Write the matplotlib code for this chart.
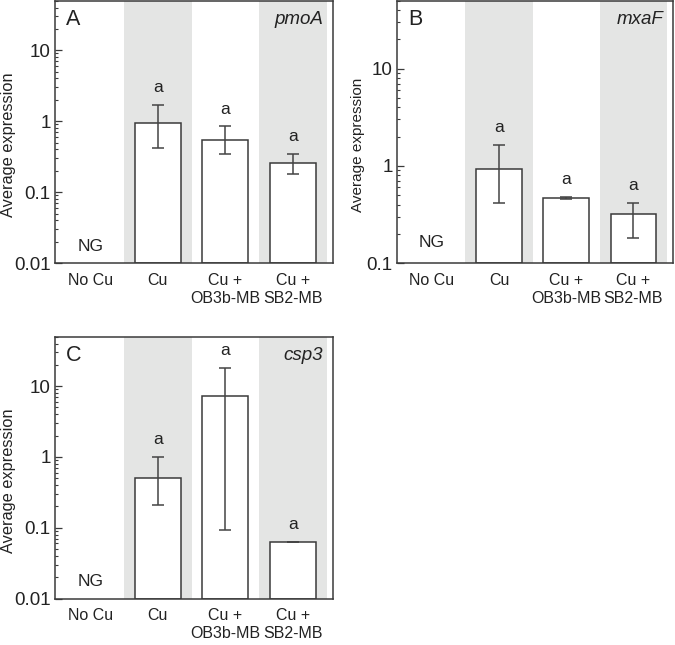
import numpy as np
import matplotlib
matplotlib.use("Agg")
import matplotlib.pyplot as plt
from matplotlib.ticker import LogLocator, NullFormatter, FixedLocator, FixedFormatter

plt.rcParams['font.family'] = ['Liberation Sans', 'DejaVu Sans']

categories = ["No Cu", "Cu", "Cu +\nOB3b-MB", "Cu +\nSB2-MB"]

# pmoA (No Cu = not detected)
pmoA_mean = [np.nan, 0.94, 0.55, 0.26]
pmoA_low = [np.nan, 0.42, 0.35, 0.18]
pmoA_high = [np.nan, 1.70, 0.85, 0.35]

# mxaF
mxaF_mean = [np.nan, 0.92, 0.47, 0.32]
mxaF_low = [np.nan, 0.42, 0.455, 0.18]
mxaF_high = [np.nan, 1.64, 0.48, 0.42]

# csp3
csp3_mean = [np.nan, 0.51, 7.2, 0.063]
csp3_low = [np.nan, 0.21, 0.092, 0.0625]
csp3_high = [np.nan, 1.0, 18.3, 0.0635]

letters = ["", "a", "a", "a"]

edge = "#3a3a3a"
shade = "#e4e5e4"
txt = "#222222"

fig = plt.figure(figsize=(6.75, 6.45), dpi=100)
axA = fig.add_axes([0.0815, 0.592, 0.4115, 0.407])
axB = fig.add_axes([0.588, 0.592, 0.409, 0.407])
axC = fig.add_axes([0.0815, 0.072, 0.4115, 0.406])


def panel(ax, mean, low, high, ymin, panel_lab, gene, ticks, ticklabels, ylab_x, ylab_size):
    x = np.arange(len(categories))
    ax.set_yscale("log")
    ax.set_xlim(-0.52, 3.59)
    ax.set_ylim(ymin, 50)
    for i in (1, 3):
        ax.axvspan(i - 0.5, i + 0.5, color=shade, lw=0, zorder=0)
    m = np.array(mean)
    lo = np.array(low)
    hi = np.array(high)
    ok = ~np.isnan(m)
    ax.bar(x[ok], m[ok] - ymin, width=0.68, bottom=ymin, color="white",
           edgecolor=edge, linewidth=1.1, zorder=2)
    ax.errorbar(x[ok], m[ok], yerr=[m[ok] - lo[ok], hi[ok] - m[ok]], fmt="none",
                ecolor="#444444", elinewidth=1.1, capsize=4, capthick=1.1, zorder=3)
    for i in x[ok]:
        ax.annotate(letters[i], (i, hi[i]), xytext=(0, 7), textcoords="offset points",
                    ha="center", va="bottom", fontsize=12.5, color=txt)
    ax.text(0, ymin * 1.35, "NG", ha="center", va="bottom", fontsize=12.5, color=txt)
    ax.text(0.04, 0.97, panel_lab, transform=ax.transAxes, ha="left", va="top",
            fontsize=15.5, color=txt)
    ax.text(0.965, 0.96, gene, transform=ax.transAxes, ha="right", va="top",
            fontsize=13.5, style="italic", color=txt)
    ax.yaxis.set_major_locator(FixedLocator(ticks))
    ax.yaxis.set_major_formatter(FixedFormatter(ticklabels))
    ax.yaxis.set_minor_locator(LogLocator(base=10, subs=np.arange(2, 10)))
    ax.yaxis.set_minor_formatter(NullFormatter())
    ax.tick_params(axis="y", which="major", direction="in", length=5, width=0.9,
                   color=edge, labelsize=13.5, labelcolor=txt, pad=3)
    ax.tick_params(axis="y", which="minor", direction="in", length=2.5, width=0.8, color=edge)
    ax.set_xticks(x)
    ax.set_xticklabels(categories, fontsize=11.5, color=txt, linespacing=1.25)
    ax.tick_params(axis="x", length=0, pad=7)
    ax.set_ylabel("Average expression", fontsize=ylab_size, color=txt)
    ax.yaxis.set_label_coords(ylab_x, 0.45)
    for s in ax.spines.values():
        s.set_color(edge)
        s.set_linewidth(1.1)


panel(axA, pmoA_mean, pmoA_low, pmoA_high, 0.01, "A", "pmoA",
      [0.01, 0.1, 1, 10], ["0.01", "0.1", "1", "10"], -0.14, 11.8)
panel(axB, mxaF_mean, mxaF_low, mxaF_high, 0.1, "B", "mxaF",
      [0.1, 1, 10], ["0.1", "1", "10"], -0.116, 11)
panel(axC, csp3_mean, csp3_low, csp3_high, 0.01, "C", "csp3",
      [0.01, 0.1, 1, 10], ["0.01", "0.1", "1", "10"], -0.14, 11.8)

fig.savefig("out.png", dpi=100)
